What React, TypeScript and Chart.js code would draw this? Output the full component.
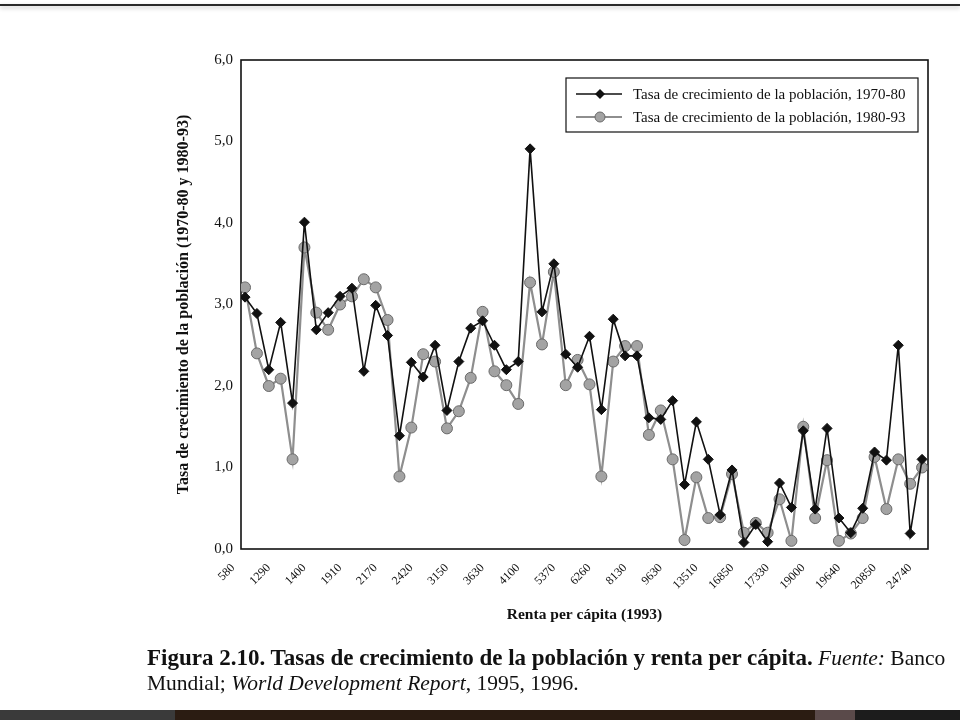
import React, { useEffect, useRef } from "react";
import { Chart, registerables } from "chart.js";

Chart.register(...registerables);

const tickLabels = ["580", "1290", "1400", "1910", "2170", "2420", "3150", "3630", "4100", "5370", "6260", "8130", "9630", "13510", "16850", "17330", "19000", "19640", "20850", "24740"];

const growth7080 = [3.09, 2.89, 2.2, 2.78, 1.79, 4.01, 2.69, 2.9, 3.1, 3.2, 2.18, 2.99, 2.62, 1.39, 2.29, 2.11, 2.5, 1.7, 2.3, 2.71, 2.8, 2.5, 2.2, 2.3, 4.91, 2.91, 3.5, 2.39, 2.23, 2.61, 1.71, 2.82, 2.37, 2.37, 1.61, 1.59, 1.82, 0.79, 1.56, 1.1, 0.42, 0.97, 0.08, 0.3, 0.09, 0.81, 0.51, 1.45, 0.49, 1.48, 0.38, 0.2, 0.5, 1.19, 1.09, 2.5, 0.19, 1.1];

const growth8093 = [3.21, 2.4, 2.0, 2.09, 1.1, 3.7, 2.9, 2.69, 3.0, 3.1, 3.31, 3.21, 2.81, 0.89, 1.49, 2.39, 2.3, 1.48, 1.69, 2.1, 2.91, 2.18, 2.01, 1.78, 3.27, 2.51, 3.4, 2.01, 2.32, 2.02, 0.89, 2.3, 2.49, 2.49, 1.4, 1.7, 1.1, 0.11, 0.88, 0.38, 0.39, 0.92, 0.2, 0.32, 0.2, 0.61, 0.1, 1.5, 0.38, 1.09, 0.1, 0.19, 0.38, 1.13, 0.49, 1.1, 0.8, 1.0];

const seriesNames = ["Tasa de crecimiento de la población, 1970-80", "Tasa de crecimiento de la población, 1980-93"];

const yTitle = "Tasa de crecimiento de la población (1970-80 y 1980-93)";
const xTitle = "Renta per cápita (1993)";

const SERIF = "'Liberation Serif', 'DejaVu Serif', serif";
const BLACK = "#111111";
const GRAY_FILL = "#a3a3a3";
const GRAY_LINE = "#8e8e8e";
const GRAY_EDGE = "#6a6a6a";

function drawDiamond(ctx: CanvasRenderingContext2D, x: number, y: number, r: number) {
  ctx.beginPath();
  ctx.moveTo(x, y - r);
  ctx.lineTo(x + r, y);
  ctx.lineTo(x, y + r);
  ctx.lineTo(x - r, y);
  ctx.closePath();
  ctx.fillStyle = BLACK;
  ctx.fill();
}

function drawDisc(ctx: CanvasRenderingContext2D, x: number, y: number, r: number) {
  ctx.beginPath();
  ctx.arc(x, y, r, 0, Math.PI * 2);
  ctx.fillStyle = GRAY_FILL;
  ctx.fill();
  ctx.lineWidth = 1;
  ctx.strokeStyle = GRAY_EDGE;
  ctx.stroke();
}

const framePlugin = {
  id: "frame",
  beforeDatasetsDraw(chart: any) {
    const { ctx, chartArea } = chart;
    ctx.save();
    ctx.strokeStyle = BLACK;
    ctx.lineWidth = 1.6;
    ctx.strokeRect(chartArea.left, chartArea.top, chartArea.right - chartArea.left, chartArea.bottom - chartArea.top);
    ctx.restore();
  },
};

const boxLegendPlugin = {
  id: "boxLegend",
  afterDatasetsDraw(chart: any) {
    const { ctx, chartArea } = chart;
    const right = chartArea.right - 10;
    const left = right - 352;
    const top = chartArea.top + 18;
    const h = 54;
    ctx.save();
    ctx.fillStyle = "#ffffff";
    ctx.fillRect(left, top, right - left, h);
    ctx.strokeStyle = BLACK;
    ctx.lineWidth = 1.2;
    ctx.strokeRect(left, top, right - left, h);
    ctx.font = "15px " + SERIF;
    ctx.textBaseline = "middle";
    ctx.textAlign = "left";
    const rows = [top + 16, top + 39];
    ctx.strokeStyle = BLACK;
    ctx.lineWidth = 1.5;
    ctx.beginPath();
    ctx.moveTo(left + 10, rows[0]);
    ctx.lineTo(left + 56, rows[0]);
    ctx.stroke();
    drawDiamond(ctx, left + 34, rows[0], 5);
    ctx.fillStyle = BLACK;
    ctx.fillText(seriesNames[0], left + 67, rows[0] + 1);
    ctx.strokeStyle = GRAY_LINE;
    ctx.lineWidth = 2;
    ctx.beginPath();
    ctx.moveTo(left + 10, rows[1]);
    ctx.lineTo(left + 56, rows[1]);
    ctx.stroke();
    drawDisc(ctx, left + 34, rows[1], 5);
    ctx.fillStyle = BLACK;
    ctx.fillText(seriesNames[1], left + 67, rows[1] + 1);
    ctx.restore();
  },
};

export default function App() {
  const canvasRef = useRef<HTMLCanvasElement | null>(null);

  useEffect(() => {
    const canvas = canvasRef.current;
    if (!canvas) return;
    const chart = new Chart(canvas, {
      type: "line",
      data: {
        datasets: [
          {
            label: seriesNames[0],
            data: growth7080.map((v, i) => ({ x: i, y: v })),
            borderColor: BLACK,
            borderWidth: 1.6,
            backgroundColor: BLACK,
            pointStyle: "rectRot",
            pointRadius: 5,
            pointBackgroundColor: BLACK,
            pointBorderColor: BLACK,
            pointBorderWidth: 1,
            tension: 0,
          },
          {
            label: seriesNames[1],
            data: growth8093.map((v, i) => ({ x: i, y: v })),
            borderColor: GRAY_LINE,
            borderWidth: 2.2,
            backgroundColor: GRAY_FILL,
            pointStyle: "circle",
            pointRadius: 5.5,
            pointBackgroundColor: GRAY_FILL,
            pointBorderColor: GRAY_EDGE,
            pointBorderWidth: 1,
            tension: 0,
          },
        ],
      },
      options: {
        animation: false,
        responsive: false,
        devicePixelRatio: 1,
        layout: { padding: { left: 168, right: 32, top: 60, bottom: 96 } },
        plugins: {
          legend: { display: false },
          tooltip: { enabled: false },
        },
        scales: {
          x: {
            type: "linear",
            min: -0.34,
            max: 57.5,
            grid: { display: false },
            border: { display: false },
            afterBuildTicks: (scale: any) => {
              scale.ticks = tickLabels.map((_, k) => ({ value: k * 3 }));
            },
            afterFit: (scale: any) => {
              scale.height = 75;
            },
            ticks: {
              autoSkip: false,
              maxRotation: 45,
              minRotation: 45,
              padding: 4,
              labelOffset: -12,
              color: BLACK,
              font: { family: SERIF, size: 12 },
              callback: (value: any) => {
                const k = Math.round(Number(value) / 3);
                return tickLabels[k] ?? "";
              },
            },
            title: {
              display: true,
              text: xTitle,
              color: BLACK,
              font: { family: SERIF, size: 15.5, weight: "bold" },
              padding: { top: 0, bottom: 0 },
            },
          },
          y: {
            min: 0,
            max: 6,
            grid: { display: false, drawTicks: false },
            border: { display: false },
            afterFit: (scale: any) => {
              scale.width = 73;
            },
            ticks: {
              stepSize: 1,
              padding: 8,
              color: BLACK,
              font: { family: SERIF, size: 15 },
              callback: (value: any) => Number(value).toFixed(1).replace(".", ","),
            },
            title: {
              display: true,
              text: yTitle,
              color: BLACK,
              font: { family: SERIF, size: 16, weight: "bold" },
              padding: { top: 6, bottom: 0 },
            },
          },
        },
      },
      plugins: [framePlugin, boxLegendPlugin],
    } as any);
    return () => chart.destroy();
  }, []);

  return (
    <div style={{ position: "fixed", left: 0, top: 0, width: 960, height: 720, background: "#ffffff", overflow: "hidden" }}>
      <div style={{ position: "absolute", left: 0, top: 4, width: 960, height: 2, background: "#2a2a2a", boxShadow: "0 2px 4px rgba(0,0,0,0.25)" }} />
      <canvas ref={canvasRef} width={960} height={720} style={{ position: "absolute", left: 0, top: 0, width: 960, height: 720 }} />
      <div
        style={{
          position: "absolute",
          left: 147,
          top: 645,
          fontFamily: SERIF,
          fontSize: 21.5,
          lineHeight: "25px",
          color: "#111",
          whiteSpace: "nowrap",
        }}
      >
        <b style={{ fontSize: 23 }}>Figura 2.10. Tasas de crecimiento de la población y renta per cápita.</b> <i>Fuente:</i> Banco
        <br />
        Mundial; <i>World Development Report</i>, 1995, 1996.
      </div>
      <div style={{ position: "absolute", left: 0, top: 710, width: 175, height: 10, background: "#3a3a3a" }} />
      <div style={{ position: "absolute", left: 175, top: 710, width: 640, height: 10, background: "#2b1c12" }} />
      <div style={{ position: "absolute", left: 815, top: 710, width: 40, height: 10, background: "#5a4a4a" }} />
      <div style={{ position: "absolute", left: 855, top: 710, width: 105, height: 10, background: "#1c1c1c" }} />
    </div>
  );
}
